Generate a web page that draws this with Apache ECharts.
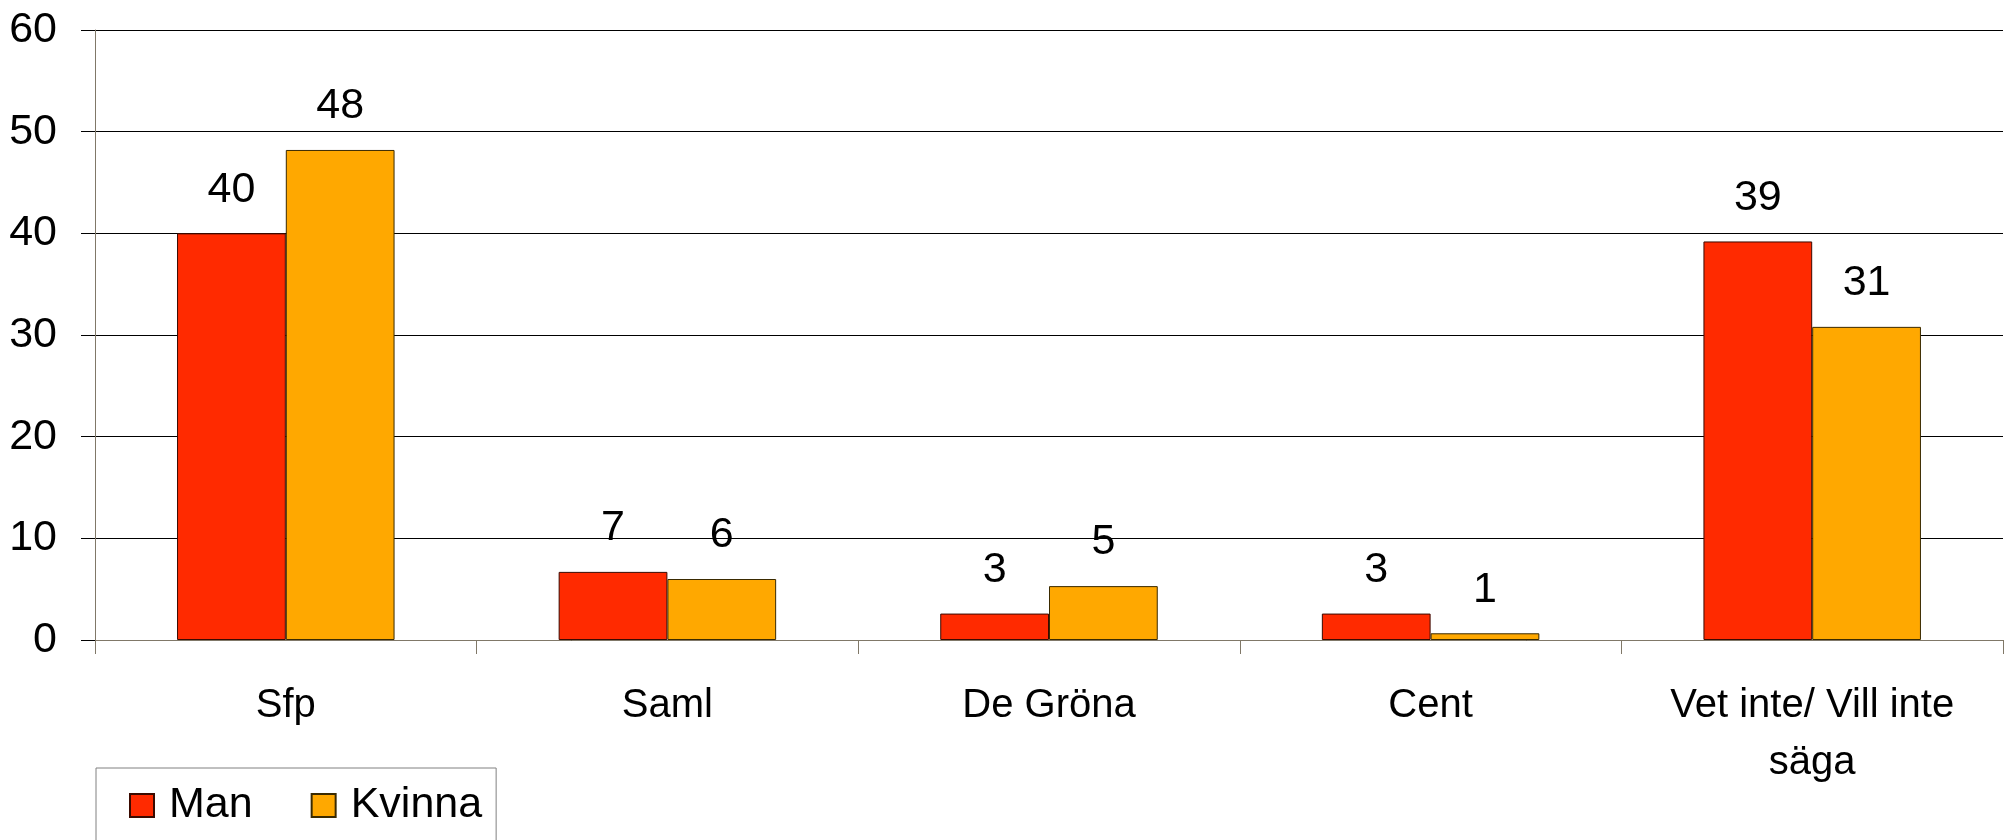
<!DOCTYPE html>
<html lang="sv">
<head>
<meta charset="utf-8" />
<title>Man / Kvinna</title>
<script src="https://cdn.jsdelivr.net/npm/echarts@6/dist/echarts.min.js"></script>
<style>
html,body{margin:0;padding:0;background:#fff}
#main{width:2008px;height:840px}
</style>
</head>
<body>
<div id="main"></div>
<script>
// kategorier och värden (läst från bilden)
var categories = ['Sfp', 'Saml', 'De Gröna', 'Cent', 'Vet inte/ Vill inte\nsäga'];
var manData = [40, 6.7, 2.6, 2.6, 39.2];
var kvinnaData = [48.2, 6.0, 5.3, 0.66, 30.8];
var yTicks = [0, 60, 10]; // min, max, interval

var font = 'Liberation Sans, Arial, sans-serif';
var chart = echarts.init(document.getElementById('main'));

function barLabel() {
	return {
		show: true,
		position: 'top',
		distance: 22,
		color: '#000',
		fontSize: 43,
		fontFamily: font,
		formatter: function (p) { return Math.round(p.value); }
	};
}

var option = {
	animation: false,
	grid: { left: 95, right: 5, top: 30, bottom: 200, containLabel: false },
	legend: {
		left: 96,
		top: 768,
		orient: 'horizontal',
		padding: [16, 14, 60, 33],
		borderColor: '#808080',
		borderWidth: 1,
		icon: 'rect',
		itemWidth: 24,
		itemHeight: 23,
		itemGap: 58,
		textStyle: { fontSize: 43, fontFamily: font, color: '#000', padding: [0, 0, 0, 10] },
		data: ['Man', 'Kvinna']
	},
	xAxis: {
		type: 'category',
		data: categories,
		axisLine: { show: true, lineStyle: { color: '#807868', width: 1 } },
		axisTick: { show: true, length: 14, alignWithLabel: false, lineStyle: { color: '#807868' } },
		axisLabel: { margin: 37, fontSize: 40, lineHeight: 57, color: '#000', fontFamily: font, interval: 0 },
		splitLine: { show: false }
	},
	yAxis: {
		type: 'value',
		min: yTicks[0],
		max: yTicks[1],
		interval: yTicks[2],
		axisLine: { show: true, lineStyle: { color: '#807868', width: 1 } },
		axisTick: { show: true, length: 14, lineStyle: { color: '#000' } },
		axisLabel: { margin: 38, fontSize: 43, color: '#000', fontFamily: font },
		splitLine: { show: true, lineStyle: { color: '#000', width: 1 } }
	},
	series: [
		{
			name: 'Man',
			type: 'bar',
			data: manData,
			barGap: '0%',
			barCategoryGap: '43%',
			itemStyle: { color: '#FF2A00', borderColor: '#3a0a00', borderWidth: 1 },
			label: barLabel()
		},
		{
			name: 'Kvinna',
			type: 'bar',
			data: kvinnaData,
			barGap: '0%',
			barCategoryGap: '43%',
			itemStyle: { color: '#FFA800', borderColor: '#3a2a00', borderWidth: 1 },
			label: barLabel()
		}
	]
};

chart.setOption(option);
</script>
</body>
</html>
